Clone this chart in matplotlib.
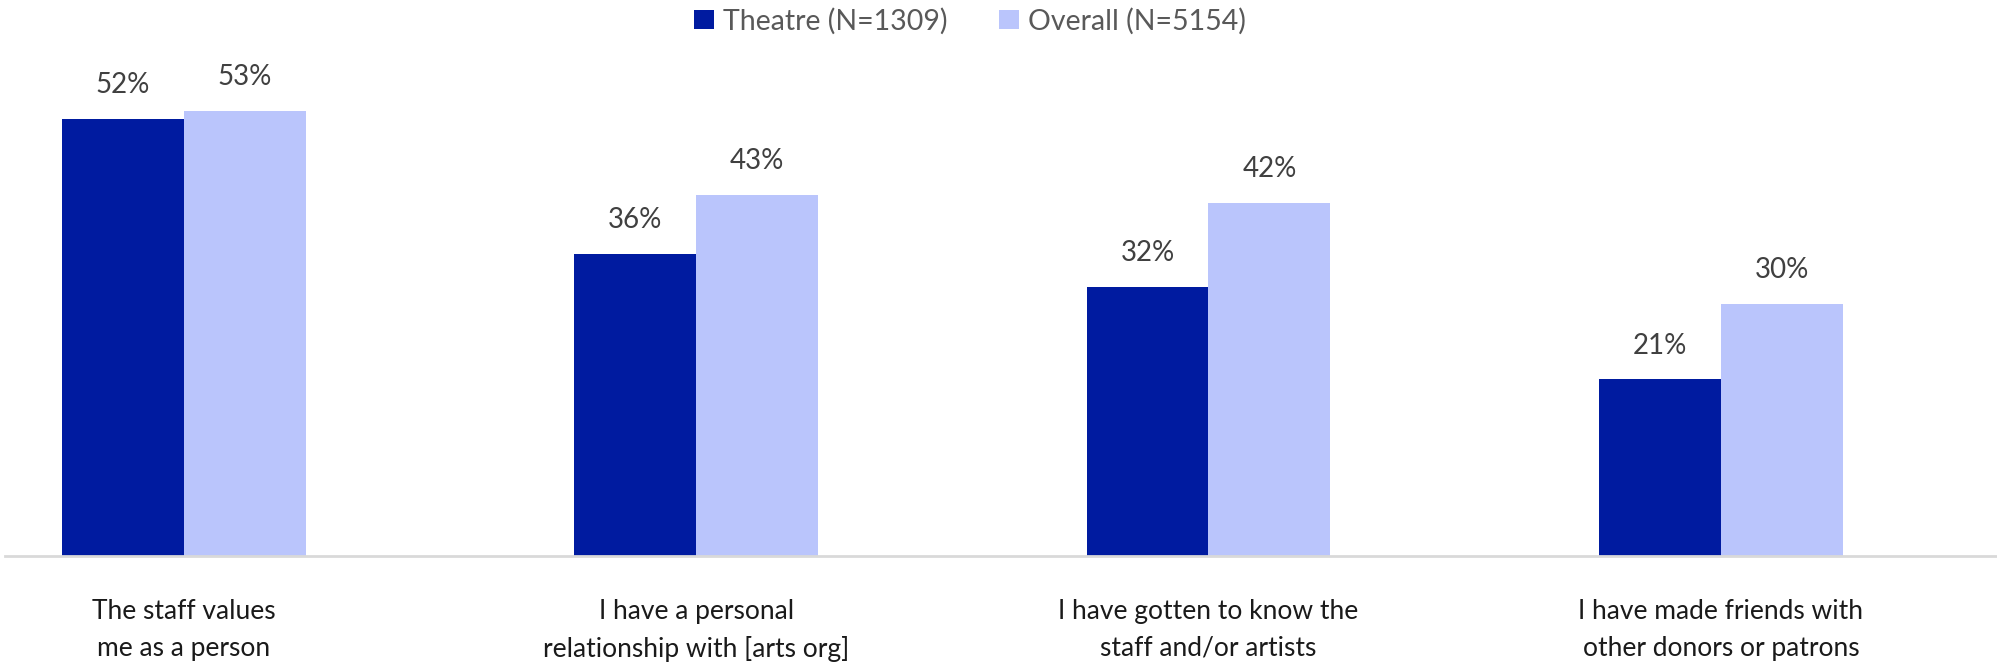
import numpy as np
import matplotlib
matplotlib.use('Agg')
import matplotlib.pyplot as plt

categories = ['The staff values\nme as a person',
              'I have a personal\nrelationship with [arts org]',
              'I have gotten to know the\nstaff and/or artists',
              'I have made friends with\nother donors or patrons']
theatre = [52, 36, 32, 21]
overall = [53, 43, 42, 30]
series_names = ['Theatre (N=1309)', 'Overall (N=5154)']
colors = ['#001BA0', '#BAC5FC']

plt.rcParams['font.family'] = ['Lato', 'DejaVu Sans']

fig = plt.figure(figsize=(19.97, 6.71), dpi=100)
ax = fig.add_axes([5/1997, 0.1718, 1 - 5/1997, 1 - 0.1718])

x = np.arange(len(categories))
w = 0.238
b1 = ax.bar(x - w/2, theatre, w, color=colors[0], label=series_names[0])
b2 = ax.bar(x + w/2, overall, w, color=colors[1], label=series_names[1])
for bars in (b1, b2):
	ax.bar_label(bars, labels=[f'{v}%' for v in bars.datavalues], padding=15,
				 fontsize=20, color='#404040')

ax.set_xlim(-0.349, 3.539)
ax.set_ylim(0, 66.2)
ax.set_xticks(x)
ax.set_xticklabels(categories, fontsize=19, color='#1a1a1a', linespacing=1.6)
ax.tick_params(axis='x', length=0, pad=31)
ax.set_yticks([])
for s in ['top', 'right', 'left']:
	ax.spines[s].set_visible(False)
ax.spines['bottom'].set_color('#D9D9D9')
ax.spines['bottom'].set_linewidth(2)

fig.legend(loc='center', bbox_to_anchor=(970/1997, 1 - 21/671), ncol=2, frameon=False,
		   fontsize=20.5, labelcolor='#595959', handlelength=0.7, handleheight=0.7,
		   handletextpad=0.32, columnspacing=1.8)

plt.savefig('out.png', dpi=100)
